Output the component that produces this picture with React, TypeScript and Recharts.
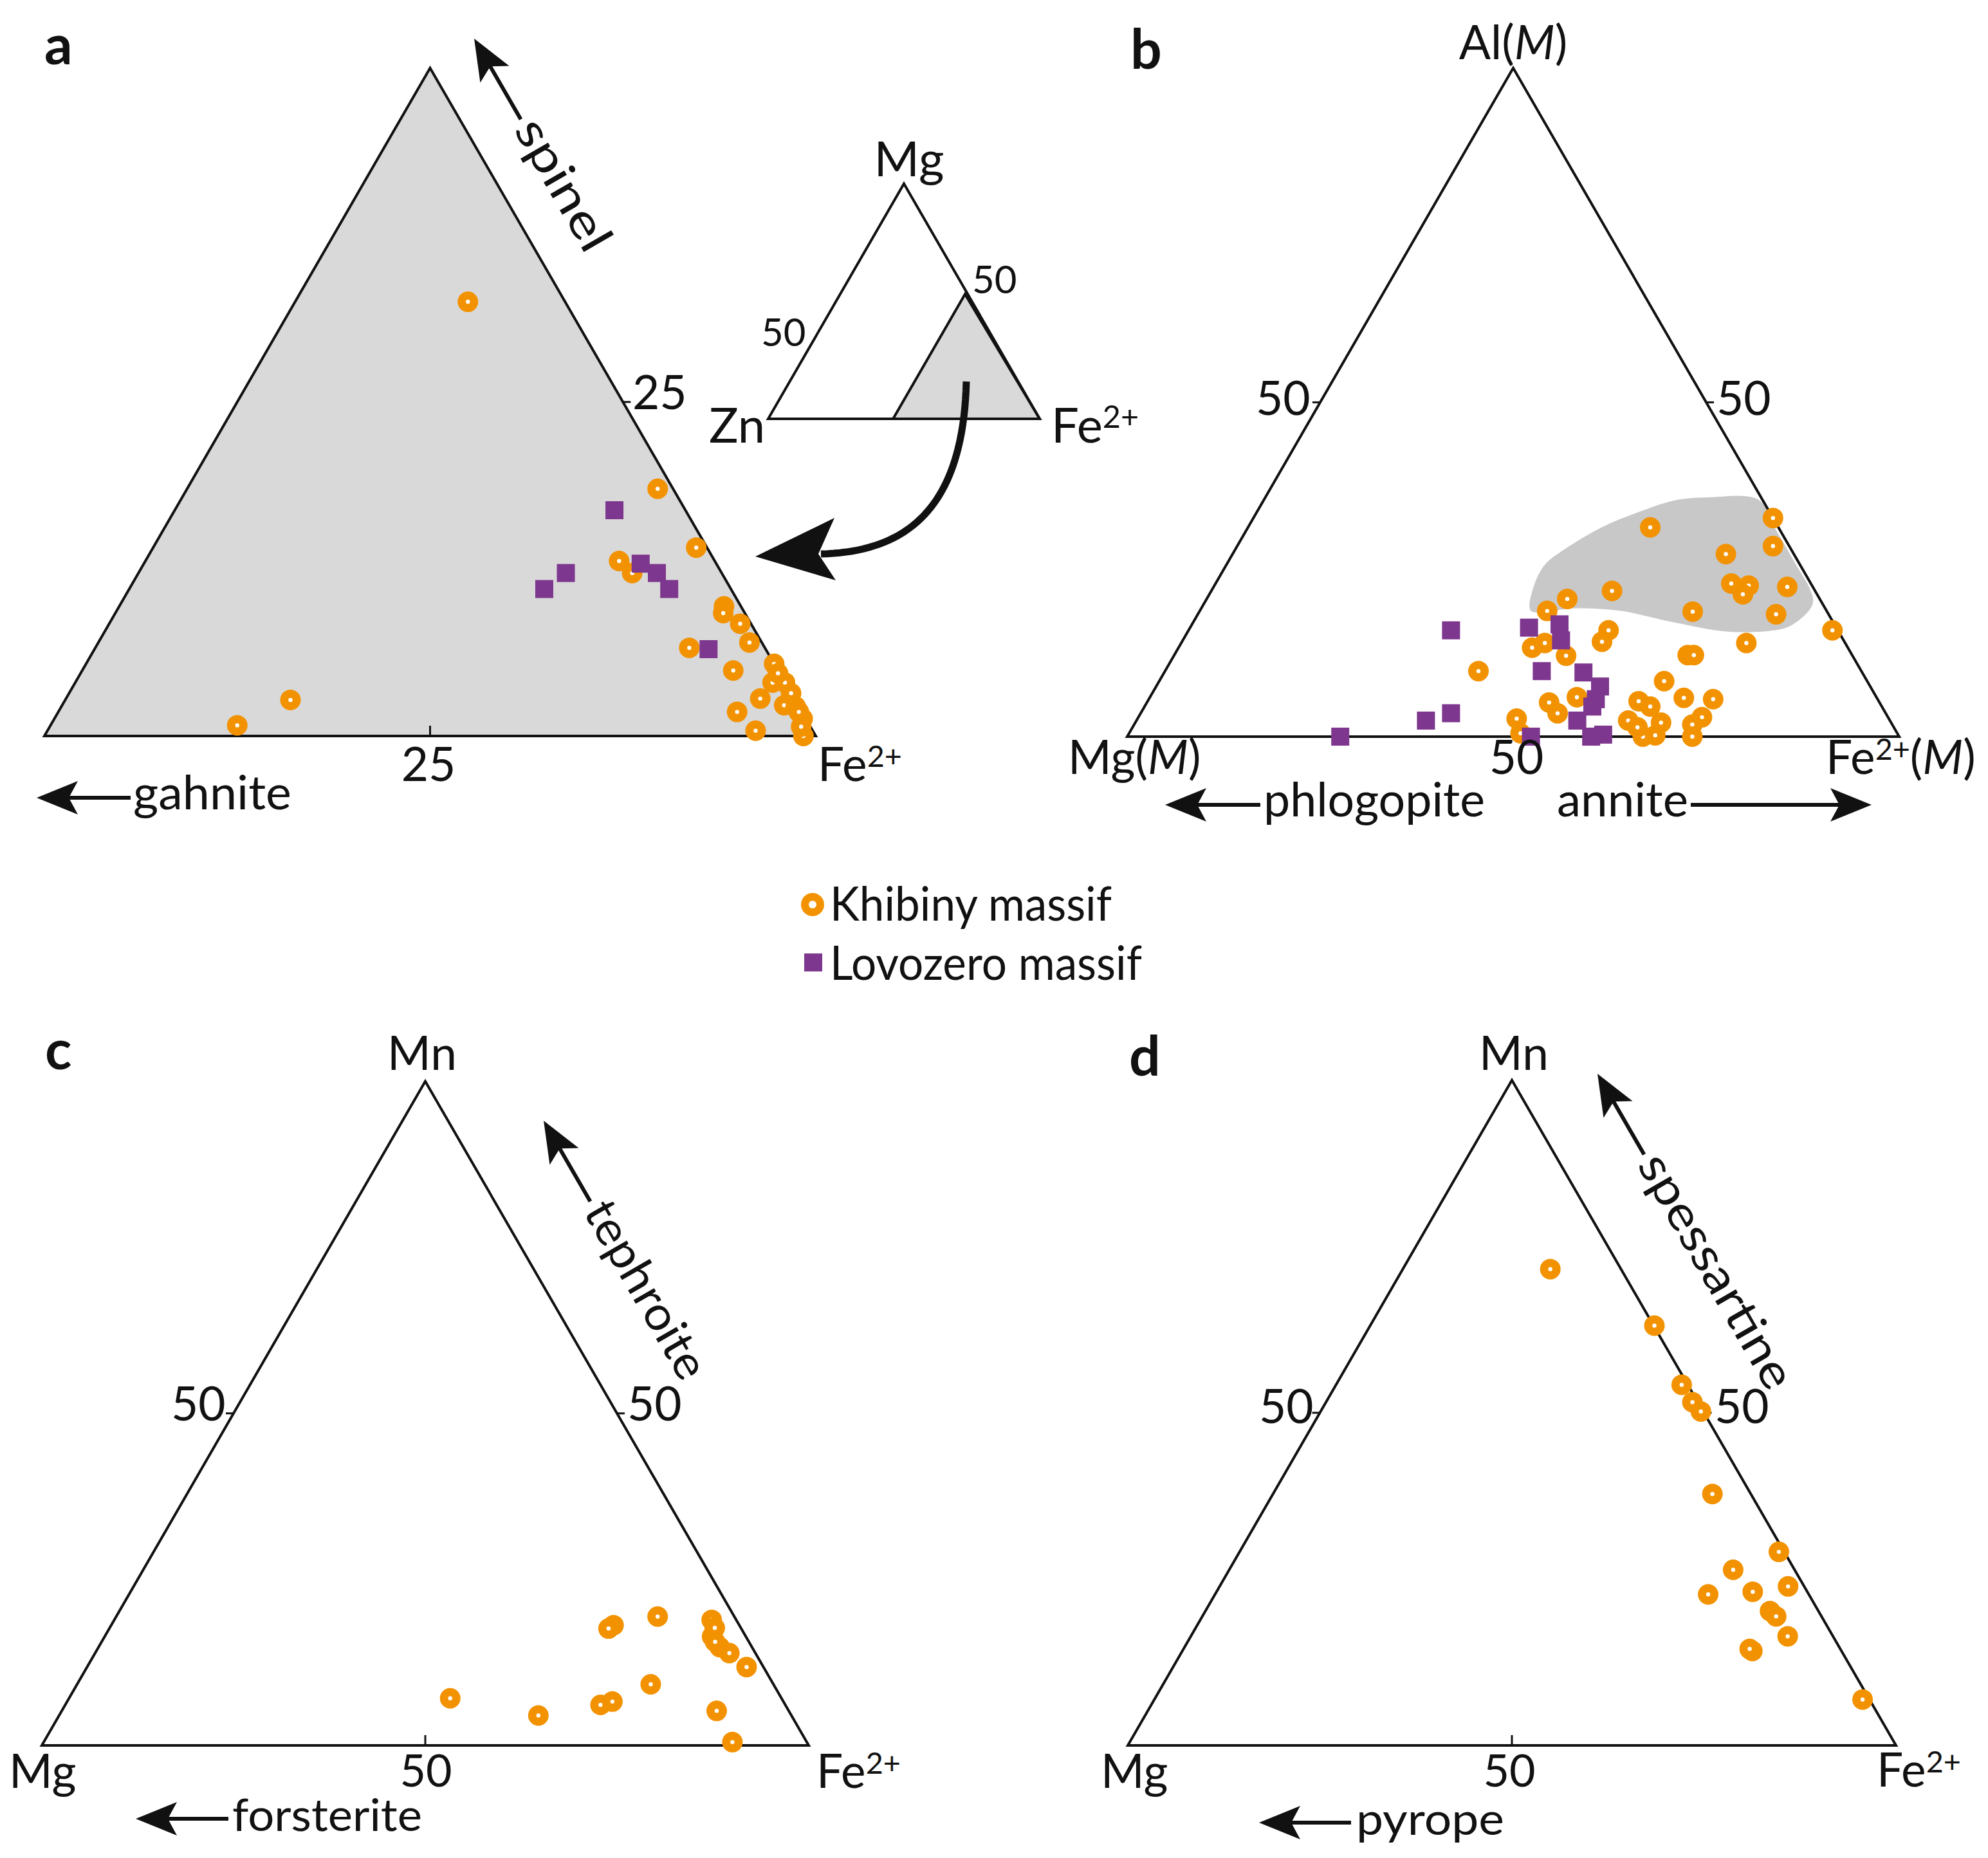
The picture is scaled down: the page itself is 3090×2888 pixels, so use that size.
import React from 'react';
import { ScatterChart, Scatter, XAxis, YAxis } from 'recharts';

const CHART_W = 3090;
const CHART_H = 2888;
const ORANGE = '#F39200';
const PURPLE = '#7E378E';
const INK = '#111111';
const FONT = "Lato, 'Open Sans', sans-serif";

// ---------------- data ----------------
// (a) spinel: [Mg %, Fe2+ %]  (Zn = 100 - Mg - Fe), shown in the Fe-rich sub-triangle
const spinelKhibiny: number[][] = [
  [32.5, 61.2], [2.7, 64.6], [0.8, 62.1], [18.5, 80.5], [14.1, 85.2], [13.1, 80.7], [12.2, 82.0],
  [9.7, 89.2], [9.2, 89.4], [8.4, 90.9], [7.0, 92.2], [6.6, 88.5], [5.4, 94.6], [4.9, 92.2],
  [4.0, 95.2], [4.0, 96.0], [3.2, 96.8], [2.8, 95.0], [2.3, 96.8], [2.2, 97.6], [1.3, 98.5],
  [1.8, 94.0], [0.4, 95.9], [0.0, 99.2], [0.7, 98.7], [1.8, 98.0], [4.7, 95.2],
];
const spinelLovozero: number[][] = [
  [16.9, 78.5], [12.2, 77.7], [11.0, 76.9], [12.9, 82.2], [12.2, 83.6], [11.0, 85.0], [6.5, 89.8],
];
// (b) mica: [Al(M) %, Fe2+(M) %]  (Mg(M) = remainder)
const micaKhibiny: number[][] = [
  [32.7, 67.3], [31.3, 52.1], [28.5, 69.4], [27.3, 63.9], [22.9, 66.8], [22.6, 69.2], [21.3, 69.1],
  [22.4, 74.3], [21.8, 51.9], [20.6, 46.7], [18.8, 45.0], [18.7, 63.9], [18.3, 74.9], [15.9, 83.4],
  [15.9, 54.4], [14.2, 54.4], [14.0, 47.1], [13.3, 45.8], [14.0, 73.2], [12.1, 50.8], [12.2, 66.5],
  [12.2, 67.3], [9.8, 40.6], [8.3, 65.4], [5.9, 55.3], [5.1, 52.1], [3.5, 54.0], [5.3, 63.6],
  [4.5, 65.5], [5.8, 69.2], [5.6, 73.1], [2.9, 73.0], [1.8, 72.3], [2.7, 49.1], [2.4, 63.7],
  [2.1, 68.1], [0.0, 66.8], [0.2, 68.3], [0.0, 73.2], [0.5, 50.7], [1.4, 65.4],
];
const micaLovozero: number[][] = [
  [15.9, 34.0], [16.3, 43.9], [16.8, 47.6], [14.4, 49.0], [9.8, 48.8], [9.6, 54.3], [7.5, 57.5],
  [5.6, 57.9], [4.5, 58.0], [2.4, 57.1], [0.3, 61.5], [0.0, 60.1], [0.0, 52.3], [3.5, 40.2],
  [2.4, 37.5], [0.0, 27.6],
];
// outline of the grey field in (b): [Al %, Fe %]
const micaField: number[][] = [
  [18.8, 42.9], [21.7, 41.6], [25.5, 41.2], [28.1, 42.7], [31.3, 45.8], [33.5, 49.3], [35.3, 53.1],
  [35.8, 57.5], [35.6, 63.7], [31.3, 68.2], [25.8, 73.7], [22.3, 77.2], [19.7, 78.9], [17.1, 78.1],
  [15.9, 75.9], [15.7, 69.9], [17.1, 62.2], [18.8, 54.6], [19.2, 48.5], [18.8, 45.5],
];
// (c) olivine: [Mn %, Fe2+ %]
const olivineKhibiny: number[][] = [
  [7.1, 49.7], [4.5, 62.5], [6.1, 69.8], [6.6, 71.1], [9.2, 74.8], [19.4, 70.6], [18.1, 65.5],
  [17.6, 65.1], [18.9, 77.9], [16.4, 79.2], [14.8, 81.0], [13.9, 82.7], [11.8, 86.0], [5.2, 85.4],
  [0.5, 89.8], [17.7, 78.9], [15.6, 80.0],
];
// (d) garnet: [Mn %, Fe2+ %]
const garnetKhibiny: number[][] = [
  [71.6, 19.2], [63.1, 37.0], [54.2, 45.0], [51.6, 47.7], [50.2, 49.5], [37.8, 57.2], [29.1, 70.2],
  [26.4, 65.6], [23.9, 74.0], [22.7, 64.2], [23.1, 69.8], [20.2, 73.5], [19.4, 74.7], [16.4, 77.7],
  [14.2, 74.2], [14.5, 73.7], [6.9, 92.2],
];
// inset (a): grey Fe-rich region [Mg %, Fe %]
const insetField: number[][] = [[0, 46], [53, 46], [0, 100]];
// tick positions (percent of the edge)
const tickA = 25;
const tickFull = 50;

// ---------------- layout ----------------
type Geo = { x0: number; y0: number; w: number };
const GEO: Record<string, Geo> = {
  a: { x0: 69, y0: 1144, w: 1199 },
  b: { x0: 1752, y0: 1145, w: 1200 },
  c: { x0: 65, y0: 2713, w: 1192 },
  d: { x0: 1753, y0: 2713, w: 1194 },
  inset: { x0: 1194, y0: 651, w: 422 },
};
const S3 = Math.sqrt(3) / 2;
type P = { x: number; y: number };
const tern = (g: Geo, t: number, r: number): P => ({ x: g.x0 + (r + t / 2) * g.w, y: g.y0 - t * g.w * S3 });
const toA = (v: number[]) => tern(GEO.a, v[0] / 50, (v[1] - 50) / 50);
const toFull = (g: Geo) => (v: number[]) => tern(g, v[0] / 100, v[1] / 100);
const tri = (g: Geo) => [tern(g, 0, 0), tern(g, 1, 0), tern(g, 0, 1)];

const TL = 12; // tick length
const ticks: P[][] = (() => {
  const out: P[][] = [];
  const ga = GEO.a;
  const aBase = tern(ga, 0, tickA / 50);
  out.push([aBase, { x: aBase.x, y: aBase.y - 16 }]);
  const aRight = tern(ga, tickA / 50, tickA / 50);
  out.push([aRight, { x: aRight.x + TL, y: aRight.y }]);
  for (const k of ['b', 'c', 'd']) {
    const g = GEO[k];
    const base = tern(g, 0, tickFull / 100);
    out.push([base, { x: base.x, y: base.y - 16 }]);
    const left = tern(g, tickFull / 100, 0);
    out.push([left, { x: left.x - TL, y: left.y }]);
    const right = tern(g, tickFull / 100, tickFull / 100);
    out.push([right, { x: right.x + TL, y: right.y }]);
  }
  return out;
})();

// arrows: tip and tail
type Arrow = { tip: P; tail: P };
const dirPt = (tip: P, deg: number, dist: number): P => ({
  x: tip.x + Math.cos((deg * Math.PI) / 180) * dist,
  y: tip.y + Math.sin((deg * Math.PI) / 180) * dist,
});
const ARROWS: Arrow[] = [
  { tip: { x: 57, y: 1240 }, tail: { x: 203, y: 1240 } },
  { tip: { x: 1811, y: 1251 }, tail: { x: 1959, y: 1251 } },
  { tip: { x: 2909, y: 1251 }, tail: { x: 2628, y: 1251 } },
  { tip: { x: 211, y: 2827 }, tail: { x: 355, y: 2827 } },
  { tip: { x: 1957, y: 2833 }, tail: { x: 2100, y: 2833 } },
  { tip: { x: 737, y: 60 }, tail: dirPt({ x: 737, y: 60 }, 60, 145) },
  { tip: { x: 845, y: 1742 }, tail: dirPt({ x: 845, y: 1742 }, 60, 145) },
  { tip: { x: 2483, y: 1669 }, tail: dirPt({ x: 2483, y: 1669 }, 60, 145) },
];
function head(tip: P, tail: P, len: number, half: number, notch: number): P[] {
  const dx = tail.x - tip.x, dy = tail.y - tip.y;
  const L = Math.hypot(dx, dy);
  const ux = dx / L, uy = dy / L, nx = -uy, ny = ux;
  return [
    tip,
    { x: tip.x + ux * len + nx * half, y: tip.y + uy * len + ny * half },
    { x: tip.x + ux * notch, y: tip.y + uy * notch },
    { x: tip.x + ux * len - nx * half, y: tip.y + uy * len - ny * half },
  ];
}
function shaftStart(tip: P, tail: P, notch: number): P {
  const dx = tail.x - tip.x, dy = tail.y - tip.y;
  const L = Math.hypot(dx, dy);
  return { x: tip.x + (dx / L) * notch, y: tip.y + (dy / L) * notch };
}
// curved arrow from inset to main triangle
const C0 = { x: 1502, y: 593 }, C1 = { x: 1497, y: 790 }, C2 = { x: 1410, y: 858 }, C3 = { x: 1276, y: 861 };
const curvePts: P[] = Array.from({ length: 41 }, (_, i) => {
  const t = i / 40, u = 1 - t;
  return {
    x: u * u * u * C0.x + 3 * u * u * t * C1.x + 3 * u * t * t * C2.x + t * t * t * C3.x,
    y: u * u * u * C0.y + 3 * u * u * t * C1.y + 3 * u * t * t * C2.y + t * t * t * C3.y,
  };
});
const curveHead: P[] = [{ x: 1174, y: 865 }, { x: 1297, y: 805 }, { x: 1272, y: 861 }, { x: 1299, y: 902 }];

// labels
type Part = [string, 'n' | 'i' | 's'];
type Lbl = P & { parts: Part[]; size?: number; anchor?: 'start' | 'middle' | 'end'; bold?: boolean; rot?: number; len?: number };
const T = (s: string): Part[] => [[s, 'n']];
const FE: Part[] = [['Fe', 'n'], ['2+', 's']];
const LABELS: Lbl[] = [
  // a
  { x: 69, y: 100, parts: T('a'), bold: true, size: 86 },
  { x: 666, y: 1214, parts: T('25'), anchor: 'middle' },
  { x: 983, y: 636, parts: T('25') },
  { x: 1271, y: 1214, parts: FE },
  { x: 207, y: 1258, parts: T('gahnite'), len: 246 },
  { ...dirPt({ x: 737, y: 60 }, 60, 153), parts: T('spinel'), rot: 60, len: 226 },
  { x: 1413, y: 274, parts: T('Mg'), anchor: 'middle', size: 76 },
  { x: 1102, y: 688, parts: T('Zn'), size: 76 },
  { x: 1634, y: 688, parts: FE, size: 76 },
  { x: 1183, y: 538, parts: T('50'), size: 60 },
  { x: 1511, y: 456, parts: T('50'), size: 60 },
  // b
  { x: 1757, y: 107, parts: T('b'), bold: true, size: 86 },
  { x: 2352, y: 92, parts: [['Al(', 'n'], ['M', 'i'], [')', 'n']], anchor: 'middle' },
  { x: 1952, y: 645, parts: T('50') },
  { x: 2668, y: 645, parts: T('50') },
  { x: 1660, y: 1203, parts: [['Mg(', 'n'], ['M', 'i'], [')', 'n']] },
  { x: 2357, y: 1203, parts: T('50'), anchor: 'middle' },
  { x: 2838, y: 1203, parts: [['Fe', 'n'], ['2+', 's'], ['(', 'n'], ['M', 'i'], [')', 'n']] },
  { x: 1964, y: 1269, parts: T('phlogopite'), len: 344 },
  { x: 2420, y: 1269, parts: T('annite'), len: 204 },
  // legend
  { x: 1290, y: 1431, parts: T('Khibiny massif'), len: 438 },
  { x: 1290, y: 1523, parts: T('Lovozero massif'), len: 485 },
  // c
  { x: 70, y: 1662, parts: T('c'), bold: true, size: 86 },
  { x: 656, y: 1663, parts: T('Mn'), anchor: 'middle' },
  { x: 14, y: 2779, parts: T('Mg') },
  { x: 662, y: 2777, parts: T('50'), anchor: 'middle', size: 70 },
  { x: 1269, y: 2779, parts: FE },
  { x: 266, y: 2208, parts: T('50') },
  { x: 975, y: 2208, parts: T('50') },
  { x: 361, y: 2846, parts: T('forsterite'), len: 295, size: 70 },
  { ...dirPt({ x: 845, y: 1742 }, 60, 153), parts: T('tephroite'), rot: 60, len: 308 },
  // d
  { x: 1755, y: 1672, parts: T('d'), bold: true, size: 86 },
  { x: 2353, y: 1663, parts: T('Mn'), anchor: 'middle' },
  { x: 1711, y: 2779, parts: T('Mg') },
  { x: 2346, y: 2777, parts: T('50'), anchor: 'middle', size: 70 },
  { x: 2917, y: 2777, parts: FE },
  { x: 1957, y: 2212, parts: T('50') },
  { x: 2665, y: 2212, parts: T('50') },
  { x: 2108, y: 2852, parts: T('pyrope'), len: 230, size: 70 },
  { ...dirPt({ x: 2483, y: 1669 }, 60, 153), parts: T('spessartine'), rot: 60, len: 410 },
];
const LEGEND_RING: P[] = [{ x: 1263, y: 1406 }];
const LEGEND_SQUARE: P[] = [{ x: 1264, y: 1496 }];

// ---------------- rendering helpers ----------------
const NoShape = () => <g />;

function smoothClosed(pts: P[]): string {
  const n = pts.length;
  let d = `M${pts[0].x},${pts[0].y}`;
  for (let i = 0; i < n; i++) {
    const p0 = pts[(i - 1 + n) % n], p1 = pts[i], p2 = pts[(i + 1) % n], p3 = pts[(i + 2) % n];
    const c1x = p1.x + (p2.x - p0.x) / 6, c1y = p1.y + (p2.y - p0.y) / 6;
    const c2x = p2.x - (p3.x - p1.x) / 6, c2y = p2.y - (p3.y - p1.y) / 6;
    d += `C${c1x},${c1y} ${c2x},${c2y} ${p2.x},${p2.y}`;
  }
  return d + 'Z';
}

function pathLine(style: any, mode: 'open' | 'closed' | 'smooth') {
  return (props: any) => {
    const pts: P[] = (props && props.points) || [];
    if (!pts.length) return <g />;
    const d = mode === 'smooth'
      ? smoothClosed(pts)
      : 'M' + pts.map((p) => `${p.x},${p.y}`).join('L') + (mode === 'closed' ? 'Z' : '');
    return <path d={d} {...style} />;
  };
}

function shapeSeries(key: string, pts: P[], style: any, mode: 'open' | 'closed' | 'smooth') {
  return (
    <Scatter
      key={key}
      data={pts}
      line={pathLine(style, mode)}
      lineType="joint"
      shape={NoShape}
      isAnimationActive={false}
    />
  );
}

const Ring = (p: any) => (
  <g>
    <circle cx={p.cx} cy={p.cy} r={16} fill={ORANGE} />
    <circle cx={p.cx} cy={p.cy} r={3.2} fill="#ffffff" />
  </g>
);
const BigRing = (p: any) => (
  <g>
    <circle cx={p.cx} cy={p.cy} r={18} fill={ORANGE} />
    <circle cx={p.cx} cy={p.cy} r={6} fill="#ffffff" />
  </g>
);
const Square = (p: any) => <rect x={p.cx - 14} y={p.cy - 14} width={28} height={28} fill={PURPLE} />;

function renderLabel(p: any) {
  const L: Lbl = p.payload;
  const fs = L.size ?? 73;
  const kids: React.ReactNode[] = [];
  let raised = false;
  L.parts.forEach(([s, k], i) => {
    if (k === 's') {
      kids.push(<tspan key={i} fontSize={fs * 0.64} dy={-fs * 0.3}>{s}</tspan>);
      raised = true;
    } else {
      kids.push(
        <tspan key={i} fontStyle={k === 'i' ? 'italic' : 'normal'} fontSize={fs} dy={raised ? fs * 0.3 : undefined}>
          {s}
        </tspan>
      );
      raised = false;
    }
  });
  const extra: any = {};
  if (L.len) { extra.textLength = L.len; extra.lengthAdjust = 'spacingAndGlyphs'; }
  return (
    <text
      x={p.cx}
      y={p.cy}
      dy={L.rot ? fs * 0.25 : undefined}
      fontFamily={FONT}
      fontSize={fs}
      fontWeight={L.bold ? 700 : 400}
      textAnchor={L.anchor || 'start'}
      fill={INK}
      transform={L.rot ? `rotate(${L.rot} ${p.cx} ${p.cy})` : undefined}
      {...extra}
    >
      {kids}
    </text>
  );
}

const edge = { fill: 'none', stroke: INK, strokeWidth: 4, strokeLinejoin: 'miter' };

export default function App() {
  const triA = tri(GEO.a), triB = tri(GEO.b), triC = tri(GEO.c), triD = tri(GEO.d), triI = tri(GEO.inset);
  return (
    <div style={{ position: 'absolute', left: 0, top: 0, width: CHART_W, height: CHART_H, background: '#ffffff' }}>
      <ScatterChart width={CHART_W} height={CHART_H} margin={{ top: 0, right: 0, bottom: 0, left: 0 }}>
        <XAxis type="number" dataKey="x" domain={[0, CHART_W]} allowDataOverflow hide />
        <YAxis type="number" dataKey="y" domain={[0, CHART_H]} allowDataOverflow reversed hide />

        {shapeSeries('triA', triA, { fill: '#d9d9d9', stroke: INK, strokeWidth: 4 }, 'closed')}
        {shapeSeries('insetField', insetField.map(toFull(GEO.inset)), { fill: '#d9d9d9', stroke: INK, strokeWidth: 4 }, 'closed')}
        {shapeSeries('triI', triI, edge, 'closed')}
        {shapeSeries('micaField', micaField.map(toFull(GEO.b)), { fill: '#c8c8c8', stroke: 'none' }, 'smooth')}
        {shapeSeries('triB', triB, edge, 'closed')}
        {shapeSeries('triC', triC, edge, 'closed')}
        {shapeSeries('triD', triD, edge, 'closed')}
        {ticks.map((t, i) => shapeSeries('tick' + i, t, { fill: 'none', stroke: INK, strokeWidth: 3 }, 'open'))}

        {ARROWS.map((a, i) => shapeSeries('shaft' + i, [shaftStart(a.tip, a.tail, 45), a.tail], { fill: 'none', stroke: INK, strokeWidth: 6 }, 'open'))}
        {ARROWS.map((a, i) => shapeSeries('head' + i, head(a.tip, a.tail, 64, 26, 50), { fill: INK, stroke: 'none' }, 'closed'))}
        {shapeSeries('curve', curvePts, { fill: 'none', stroke: INK, strokeWidth: 11, strokeLinecap: 'butt' }, 'open')}
        {shapeSeries('curveHead', curveHead, { fill: INK, stroke: 'none' }, 'closed')}

        <Scatter data={spinelKhibiny.map(toA)} shape={Ring} isAnimationActive={false} />
        <Scatter data={spinelLovozero.map(toA)} shape={Square} isAnimationActive={false} />
        <Scatter data={micaKhibiny.map(toFull(GEO.b))} shape={Ring} isAnimationActive={false} />
        <Scatter data={micaLovozero.map(toFull(GEO.b))} shape={Square} isAnimationActive={false} />
        <Scatter data={olivineKhibiny.map(toFull(GEO.c))} shape={Ring} isAnimationActive={false} />
        <Scatter data={garnetKhibiny.map(toFull(GEO.d))} shape={Ring} isAnimationActive={false} />

        <Scatter data={LEGEND_RING} shape={BigRing} isAnimationActive={false} />
        <Scatter data={LEGEND_SQUARE} shape={Square} isAnimationActive={false} />
        <Scatter data={LABELS} shape={renderLabel} isAnimationActive={false} />
      </ScatterChart>
    </div>
  );
}
